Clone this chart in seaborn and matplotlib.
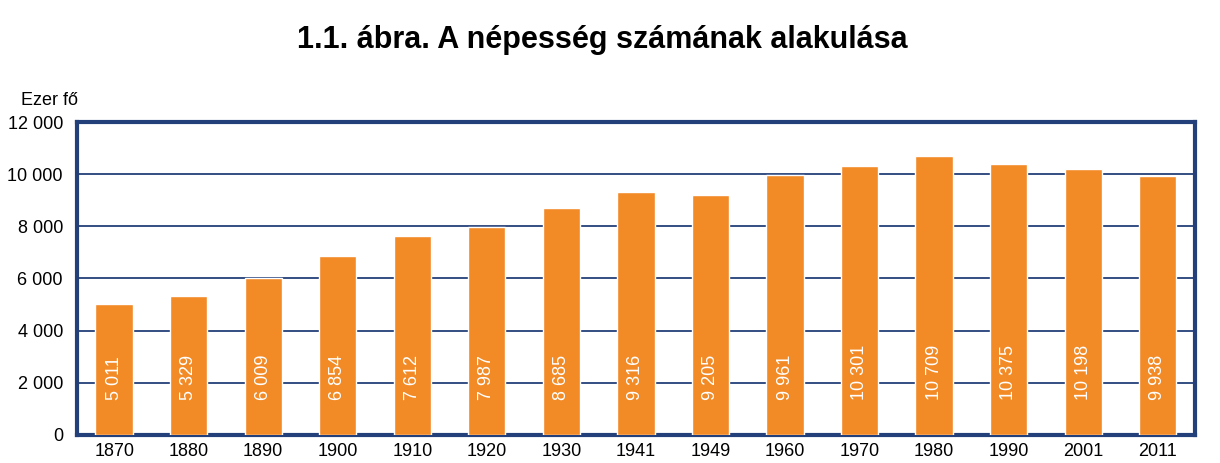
import matplotlib
matplotlib.use("Agg")
import matplotlib.pyplot as plt
import seaborn as sns
import pandas as pd
import numpy as np

# data
years = ["1870", "1880", "1890", "1900", "1910", "1920", "1930", "1941",
         "1949", "1960", "1970", "1980", "1990", "2001", "2011"]
population = [5011, 5329, 6009, 6854, 7612, 7987, 8685, 9316,
              9205, 9961, 10301, 10709, 10375, 10198, 9938]
yticks = [0, 2000, 4000, 6000, 8000, 10000, 12000]

navy = "#23407a"
orange = "#f28a26"

sns.set_style("white", {"text.color": "black", "xtick.color": "black",
                        "ytick.color": "black"})
plt.rcParams["font.family"] = ["Liberation Sans", "DejaVu Sans"]

df = pd.DataFrame({"year": years, "pop": population})

fig = plt.figure(figsize=(12.2, 4.63), dpi=100)
ax = fig.add_axes([0.063, 0.0605, 0.9165, 0.676])

sns.barplot(data=df, x="year", y="pop", color=orange, width=0.5,
            saturation=1, ax=ax, zorder=3)

def fmt(v):
    return f"{v:,}".replace(",", " ")

# value labels inside the bars
for i, v in enumerate(population):
    ax.text(i, 1350, fmt(v), rotation=90, ha="center", va="bottom",
            color="white", fontsize=13, zorder=4)

ax.set_ylim(0, 12000)
ax.set_xlim(-0.5, len(years) - 0.5)
ax.set_yticks(yticks)
ax.set_yticklabels([fmt(t) for t in yticks], fontsize=13)
for lab in ax.get_xticklabels():
    lab.set_fontsize(13)
ax.tick_params(axis="x", length=0, pad=6, labelcolor="black")
ax.set_xticks(np.arange(0.5, len(years) - 0.5), minor=True)
ax.tick_params(axis="x", which="minor", length=6, width=2.5, color=navy, direction="out")
ax.tick_params(axis="y", length=6, width=2.5, color=navy, direction="out", pad=4,
               labelcolor="black")

ax.yaxis.grid(True, color=navy, linewidth=1.3, zorder=0)
ax.set_axisbelow(True)
for s in ax.spines.values():
    s.set_color(navy)
    s.set_linewidth(3)

ax.set_xlabel("")
ax.set_ylabel("")
ax.text(-0.05, 1.04, "Ezer fő", transform=ax.transAxes, fontsize=13,
        ha="left", va="bottom", color="black")

fig.suptitle("1.1. ábra. A népesség számának alakulása", fontsize=22,
             fontweight="bold", y=0.945, x=0.494, color="black")

fig.savefig("out.png", dpi=100)
